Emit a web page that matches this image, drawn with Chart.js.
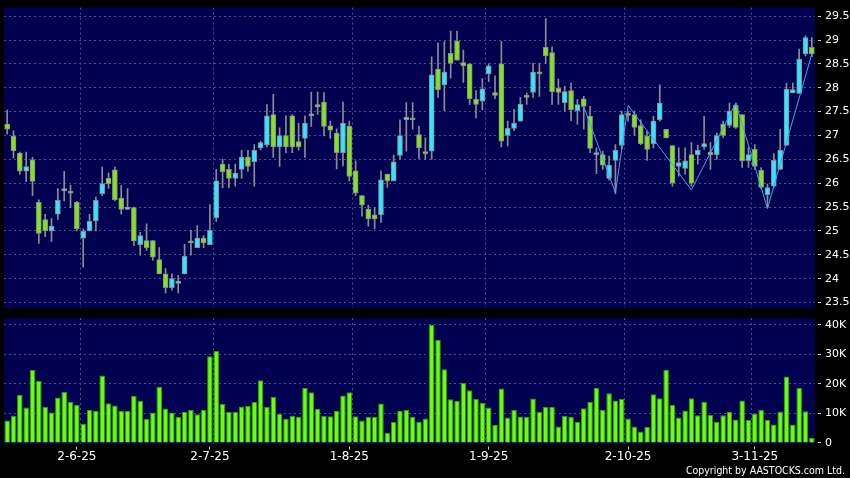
<!DOCTYPE html>
<html>
<head>
<meta charset="utf-8">
<script src="https://cdn.jsdelivr.net/npm/chart.js@4.4.1/dist/chart.umd.min.js"></script>
<style>
  html, body { margin: 0; padding: 0; background: #000; }
  #wrap { position: relative; width: 850px; height: 478px; overflow: hidden; background: #000; }
  #pricePane { position: absolute; left: 0; top: 0; width: 850px; height: 316px; }
  #volPane { position: absolute; left: 0; top: 310px; width: 850px; height: 168px; }
  #copy { position: absolute; right: 5px; top: 464px; color: #fff; font: 10.5px 'DejaVu Sans Condensed', 'DejaVu Sans', sans-serif; font-stretch: condensed; white-space: nowrap; }
</style>
</head>
<body>
<div id="wrap">
  <div id="pricePane"><canvas id="priceChart"></canvas></div>
  <div id="volPane"><canvas id="volChart"></canvas></div>
  <div id="copy">Copyright by AASTOCKS.com Ltd.</div>
</div>
<script>
/* daily candles + volume */
var opens = [27.24, 26.99, 26.63, 26.25, 26.49, 25.60, 25.24, 25.00, 25.35, 25.84, 25.79, 25.60, 24.85, 25.00, 25.21, 25.78, 26.10, 26.28, 25.69, 25.45,
  25.49, 24.71, 24.80, 24.80, 24.40, 24.10, 23.81, 23.90, 24.10, 24.75, 24.65, 24.85, 24.71, 25.28, 26.40, 26.29, 26.10, 26.29, 26.55, 26.45,
  26.74, 26.80, 27.44, 26.76, 27.00, 27.41, 26.87, 26.94, 27.41, 27.65, 27.70, 27.20, 27.05, 26.64, 27.19, 26.26, 25.74, 25.46, 25.34, 25.34,
  26.19, 26.05, 26.58, 27.33, 27.33, 27.02, 26.62, 26.67, 28.39, 28.06, 28.72, 28.98, 28.53, 28.50, 27.76, 27.72, 28.29, 27.90, 28.50, 27.00,
  27.15, 27.30, 27.80, 27.90, 28.33, 28.85, 28.74, 27.99, 27.69, 27.94, 27.52, 27.77, 27.40, 26.60, 26.60, 26.10, 26.48, 26.79, 27.45, 27.44,
  27.21, 26.99, 26.83, 27.33, 27.13, 26.79, 26.35, 26.31, 26.60, 26.60, 26.76, 26.65, 26.60, 27.24, 27.21, 27.63, 27.44, 26.47, 26.71, 26.27,
  25.76, 25.94, 26.29, 26.79, 27.89, 27.88, 28.71, 28.85];
var highs = [27.53, 27.10, 26.65, 26.65, 26.54, 25.65, 25.35, 25.26, 25.89, 26.25, 25.96, 25.62, 25.04, 25.35, 25.71, 26.34, 26.21, 26.34, 25.95, 25.89,
  25.50, 24.97, 25.15, 24.80, 24.65, 24.21, 24.10, 24.07, 24.72, 25.01, 25.11, 24.90, 25.55, 26.29, 26.50, 26.40, 26.40, 26.69, 26.69, 26.81,
  26.88, 27.65, 27.86, 27.16, 27.41, 27.44, 27.26, 27.41, 27.91, 27.91, 27.90, 27.30, 27.14, 27.70, 27.30, 26.47, 25.74, 25.54, 25.49, 26.26,
  26.19, 26.59, 27.33, 27.69, 27.69, 27.19, 26.95, 28.65, 28.94, 28.97, 29.19, 29.19, 28.79, 28.50, 27.94, 28.19, 28.50, 28.25, 28.97, 27.30,
  27.55, 27.80, 27.89, 28.51, 28.51, 29.45, 28.86, 28.18, 28.03, 28.10, 27.75, 27.82, 27.61, 26.74, 26.67, 26.57, 26.81, 27.51, 27.51, 27.51,
  27.33, 27.09, 27.40, 28.06, 27.13, 26.79, 26.74, 26.74, 26.85, 26.80, 27.40, 26.85, 27.05, 27.30, 27.68, 27.68, 27.44, 26.74, 26.81, 26.33,
  25.98, 26.62, 27.13, 28.10, 28.10, 28.81, 29.09, 29.05];
var lows = [27.03, 26.53, 26.19, 26.03, 25.74, 24.74, 24.88, 24.78, 25.24, 25.63, 25.49, 25.00, 24.24, 25.00, 25.00, 25.74, 25.89, 25.63, 25.35, 25.45,
  24.69, 24.49, 24.59, 24.38, 24.10, 23.70, 23.76, 23.70, 24.10, 24.49, 24.65, 24.65, 24.71, 25.20, 25.90, 25.90, 25.94, 26.10, 26.25, 25.94,
  26.70, 26.76, 26.54, 26.35, 26.64, 26.64, 26.69, 26.54, 27.19, 27.44, 26.99, 26.94, 26.30, 26.36, 26.05, 25.74, 25.31, 25.10, 25.04, 25.18,
  25.91, 26.05, 26.50, 26.67, 27.13, 26.51, 26.50, 26.50, 27.80, 27.52, 28.20, 28.58, 28.11, 27.65, 27.37, 27.54, 28.13, 27.77, 26.76, 26.78,
  27.10, 27.30, 27.65, 27.80, 27.82, 28.51, 27.65, 27.65, 27.51, 27.31, 27.23, 27.13, 26.64, 26.20, 26.29, 26.07, 25.78, 26.71, 27.30, 27.00,
  26.81, 26.48, 26.74, 27.30, 26.95, 25.94, 26.15, 26.19, 25.94, 26.40, 26.71, 26.29, 26.50, 26.95, 27.17, 27.15, 26.33, 26.33, 26.29, 25.88,
  25.49, 25.91, 26.29, 26.79, 27.89, 27.88, 28.67, 28.65];
var closes = [27.13, 26.68, 26.25, 26.35, 26.04, 24.95, 25.00, 25.10, 25.64, 25.89, 25.79, 25.04, 24.99, 25.20, 25.64, 25.99, 25.99, 25.65, 25.45, 25.50,
  24.79, 24.90, 24.65, 24.45, 24.10, 23.81, 24.00, 23.95, 24.47, 24.75, 24.85, 24.75, 25.01, 26.05, 26.24, 26.10, 26.21, 26.55, 26.35, 26.69,
  26.85, 27.41, 26.76, 27.00, 26.76, 26.76, 26.76, 27.26, 27.44, 27.60, 27.19, 27.11, 26.64, 27.26, 26.14, 25.79, 25.54, 25.25, 25.25, 26.07,
  26.05, 26.45, 27.00, 27.38, 27.33, 26.74, 26.62, 28.27, 27.96, 28.33, 28.51, 28.58, 28.46, 27.77, 27.65, 27.98, 28.46, 27.84, 26.88, 27.15,
  27.26, 27.66, 27.80, 28.33, 28.29, 28.67, 27.92, 27.90, 27.92, 27.54, 27.65, 27.61, 26.73, 26.64, 26.38, 26.38, 26.69, 27.44, 27.42, 27.17,
  26.83, 26.71, 27.30, 27.68, 26.95, 26.00, 26.43, 26.47, 26.00, 26.69, 26.83, 26.60, 27.00, 27.00, 27.51, 27.17, 26.47, 26.60, 26.35, 25.91,
  25.91, 26.48, 26.69, 27.97, 27.96, 28.60, 29.05, 28.71];
var volumes = [7600, 9200, 16300, 12000, 24700, 21100, 12300, 10300, 15400, 17400, 14000, 12900, 6400, 11300, 10900, 22900, 13500, 12700, 10900, 10900,
  16000, 14200, 8200, 10300, 19100, 11700, 10300, 8800, 10500, 11200, 9700, 11300, 29400, 31200, 13300, 10600, 10600, 12400, 12500, 14000,
  21300, 12300, 15600, 9900, 8200, 9200, 8900, 18600, 17200, 11600, 9200, 9100, 10900, 16100, 17200, 9100, 7600, 8800, 8800, 13400,
  3400, 7100, 10900, 11200, 8800, 7200, 8300, 40000, 35000, 25000, 14800, 14300, 20300, 17900, 14900, 13600, 12000, 6100, 18500, 8600,
  11200, 9000, 8900, 15100, 10600, 12200, 12200, 5600, 9200, 8900, 7200, 11800, 14000, 18600, 11200, 16900, 14400, 15000, 8300, 5600,
  3900, 5400, 16500, 15200, 24800, 12900, 8600, 11000, 15200, 9400, 14000, 9500, 7100, 9400, 10600, 8000, 14400, 7800, 10000, 11300,
  7800, 6300, 10700, 22500, 6300, 18600, 10800, 1700];

// zigzag overlay: bar index -> price
var zigIdx = [91, 96, 98, 108, 115, 120, 127];
var zigVal = [27.61, 25.80, 27.63, 25.86, 27.68, 25.47, 28.71];

// date ticks (bar index of the label) and month separators (grid before that bar)
var labelIdx = [11, 32, 54, 76, 98, 118];
var labelText = ['2-6-25', '2-7-25', '1-8-25', '1-9-25', '2-10-25', '3-11-25'];
var gridIdx = [12, 33, 55, 76, 98, 118];

var priceTicks = [23.5, 24, 24.5, 25, 25.5, 26, 26.5, 27, 27.5, 28, 28.5, 29, 29.5];
var volTicks = [0, 10000, 20000, 30000, 40000];

(function () {
  var NAVY = '#000050';
  var GRID = '#4e4e88';
  var CYAN = '#33e6ff';
  var GREEN = '#80e41e';
  var WICK = '#8c8c8c';
  var VOL = '#66ff11';
  var VOL_EDGE = '#3a9a00';
  var FONT = "'DejaVu Sans', sans-serif";

  var labels = opens.map(function (_, i) { return i; });

  var plotBg = {
    id: 'plotBg',
    beforeDraw: function (c) {
      var a = c.chartArea, ctx = c.ctx;
      ctx.save();
      ctx.fillStyle = NAVY;
      ctx.fillRect(a.left, a.top, a.right - a.left, a.bottom - a.top);
      ctx.restore();
    }
  };

  function fixWidth(w) { return function (s) { s.width = w; }; }
  function fixHeight(h) { return function (s) { s.height = h; }; }
  function setTicks(list) { return function (s) { s.ticks = list.map(function (v) { return { value: v }; }); }; }

  // month separators, drawn on category boundaries
  function sepAxis() {
    return {
      type: 'category', offset: true, afterFit: fixHeight(0),
      grid: {
        offset: true, drawTicks: false,
        color: function (c) { return gridIdx.indexOf(c.index) >= 0 ? GRID : 'rgba(0,0,0,0)'; }
      },
      border: { display: false, dash: [2, 3] },
      ticks: { display: false, autoSkip: false }
    };
  }

  function rightAxis(min, max, list, fmt) {
    return {
      position: 'right', min: min, max: max,
      afterFit: fixWidth(35), afterBuildTicks: setTicks(list),
      grid: {
        color: function (c) { return c.tick && c.tick.value === 0 ? 'rgba(0,0,0,0)' : GRID; },
        tickColor: '#d0d0d0', tickLength: 9, tickBorderDash: [0, 3, 3, 60]
      },
      border: { display: false, dash: [2, 3] },
      ticks: { color: '#fff', font: { family: FONT, size: 11 }, padding: 1, callback: fmt }
    };
  }

  new Chart(document.getElementById('priceChart').getContext('2d'), {
    type: 'bar',
    data: {
      labels: labels,
      datasets: [{
        type: 'line', label: 'zigzag', order: 1,
        data: labels.map(function (i) { var k = zigIdx.indexOf(i); return k >= 0 ? zigVal[k] : null; }),
        borderColor: '#3ea6ee', borderWidth: 1, pointRadius: 0, spanGaps: true, tension: 0
      }, {
        label: 'body', order: 2, grouped: false,
        data: opens.map(function (o, i) { return [o, closes[i]]; }),
        backgroundColor: opens.map(function (o, i) { return closes[i] > o ? CYAN : GREEN; }),
        borderColor: WICK, borderWidth: 1, borderSkipped: false,
        barThickness: 5, minBarLength: 2
      }, {
        label: 'wick', order: 3, grouped: false,
        data: lows.map(function (l, i) { return [l, highs[i]]; }),
        backgroundColor: WICK, borderWidth: 0, barThickness: 1
      }]
    },
    options: {
      responsive: true, maintainAspectRatio: false, animation: false, events: [],
      layout: { padding: { top: 7, left: 4, right: 0, bottom: 8 } },
      plugins: { legend: { display: false }, tooltip: { enabled: false } },
      scales: {
        x: sepAxis(),
        y: rightAxis(23.385, 29.68, priceTicks, function (v) { return String(v); })
      }
    },
    plugins: [plotBg]
  });

  new Chart(document.getElementById('volChart').getContext('2d'), {
    type: 'bar',
    data: {
      labels: labels,
      datasets: [{
        label: 'volume', data: volumes,
        backgroundColor: VOL, borderColor: VOL_EDGE, borderWidth: 1, borderSkipped: 'start',
        barPercentage: 0.88, categoryPercentage: 1
      }]
    },
    options: {
      responsive: true, maintainAspectRatio: false, animation: false, events: [],
      layout: { padding: { top: 8, left: 4, right: 0, bottom: 0 } },
      plugins: { legend: { display: false }, tooltip: { enabled: false } },
      scales: {
        x: sepAxis(),
        xl: {
          type: 'category', position: 'bottom', offset: true, afterFit: fixHeight(34),
          grid: {
            offset: false, drawOnChartArea: false, tickLength: 6, tickBorderDash: [0, 2.5, 3, 40],
            tickColor: function (c) { return labelIdx.indexOf(c.index) >= 0 ? '#d0d0d0' : 'rgba(0,0,0,0)'; }
          },
          border: { display: false },
          ticks: {
            autoSkip: false, maxRotation: 0, padding: 0, color: '#fff', font: { family: FONT, size: 12 },
            callback: function (v, i) { var k = labelIdx.indexOf(i); return k >= 0 ? labelText[k] : ''; }
          }
        },
        y: rightAxis(-340, 42360, volTicks, function (v) { return v === 0 ? '0' : (v / 1000) + 'K'; })
      }
    },
    plugins: [plotBg]
  });
})();
</script>
</body>
</html>
